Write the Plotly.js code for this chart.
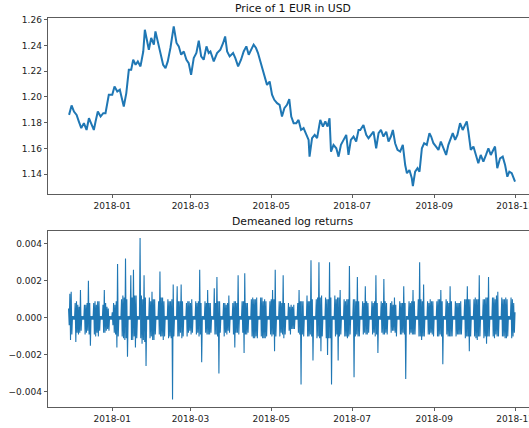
<!DOCTYPE html>
<html><head><meta charset="utf-8">
<script src="https://cdn.plot.ly/plotly-3.0.1.min.js"></script>
<style>html,body{margin:0;padding:0;overflow:hidden;background:#fff}</style>
</head><body><div id="chart"></div>
<script>
// Price of 1 EUR in USD: day offsets from 2018-01-01 and the rate
const priceDays = [
-32.6,-30.7,-28.9,-26.9,-25.2,-23.4,-21.4,-19.4,-17.6,-15.8,-13.9,-12.6,-10.9,-8.8,-6.8,-5.1,-2.6,0,
1.7,3.8,5.7,7.5,8.7,10.6,12.5,14.3,15.8,17.6,19.3,21.3,23.4,24.6,26.4,27.6,29.4,31.4,32.6,34.4,36.4,
38.4,40.2,41.9,43.9,46.4,48.5,50.2,52.0,54.0,56.0,57.7,59.5,61.5,63.5,65.3,67.1,69.0,71.1,72.8,
74.1,76.6,79.1,81.6,83.7,85.2,86.7,88.6,91.2,92.9,95.0,97.2,99.2,101.2,103.0,104.8,106.7,108.5,110.0,
111.8,113.5,115.0,116.8,118.8,120.6,122.3,124.4,126.3,128.1,129.9,131.9,133.6,135.1,136.9,138.9,140.6,
142.5,144.4,146.5,148.2,148.9,150.8,152.8,154.6,157.0,159.0,160.8,162.5,164.0,165.1,167.0,169.1,170.8,
172.6,174.6,176.6,178.3,180.1,182.1,184.1,185.9,
187.2,189.6,191.7,193.4,195.2,197.2,199.2,201.0,202.8,204.7,206.8,208.5,210.3,211.8,213.5,215.3,217.3,
219.3,221.1,222.4,224.3,226.1,226.9,228.6,230.4,231.9,233.7,235.4,237.4,239.4,240.7,242.4,244.4,246.2,
248.0,249.9,252.0,253.7,255.5,257.0,258.8,260.5,262.5,264.5,266.3,267.6,268.8,270.6,272.6,274.6,276.3,
278.1,280.1,282.1,283.9,285.7,287.6,288.9,290.6,292.7,294.7,296.5,298.2,299.7,301.5,303.2,304.0];
const priceValues = [
1.1861,1.1934,1.1887,1.1860,1.1809,1.1758,1.1797,1.1744,1.1835,1.1783,1.1744,1.1810,1.1887,1.1848,1.1874,1.1874,1.2017,1.2017,
1.2081,1.2042,1.2056,1.1978,1.1926,1.2030,1.2211,1.2211,1.2289,1.2250,1.2276,1.2237,1.2353,1.2522,1.2419,1.2367,1.2458,1.2406,1.2509,1.2431,1.2353,
1.2250,1.2224,1.2276,1.2380,1.2548,1.2419,1.2393,1.2328,1.2353,1.2289,1.2263,1.2172,1.2302,1.2341,1.2437,1.2315,1.2289,1.2393,1.2341,
1.2353,1.2276,1.2341,1.2367,1.2419,1.2470,1.2353,1.2315,1.2341,1.2302,1.2237,1.2289,1.2353,1.2393,1.2328,1.2367,1.2406,1.2380,1.2341,
1.2276,1.2211,1.2172,1.2094,1.2120,1.2017,1.1978,1.1952,1.1939,1.1848,1.1913,1.1939,1.1983,1.1848,1.1797,1.1797,1.1822,
1.1744,1.1758,1.1706,1.1667,1.1537,1.1680,1.1706,1.1680,1.1822,1.1770,1.1810,1.1770,1.1835,1.1576,1.1628,1.1602,1.1537,
1.1628,1.1667,1.1706,1.1550,1.1667,1.1693,1.1654,1.1744,
1.1744,1.1783,1.1706,1.1680,1.1706,1.1731,1.1602,1.1719,1.1744,1.1693,1.1731,1.1654,1.1693,1.1744,1.1641,1.1589,1.1576,
1.1628,1.1472,1.1408,1.1433,1.1369,1.1309,1.1420,1.1447,1.1420,1.1602,1.1641,1.1628,1.1719,1.1693,1.1641,1.1615,1.1589,
1.1654,1.1602,1.1550,1.1628,1.1680,1.1719,1.1667,1.1706,1.1797,1.1744,1.1783,1.1810,1.1731,1.1589,1.1615,1.1550,1.1485,
1.1550,1.1498,1.1550,1.1602,1.1550,1.1589,1.1615,1.1447,1.1524,1.1537,1.1472,1.1381,1.1420,1.1408,1.1356,1.1343];

// Demeaned log returns, two values per calendar day (every 12 h) from 2017-11-29; weekends near zero
const returnStart = '2017-11-29';
const returnStepHours = 12;
const returnValues = [
0.0005,-0.0004,0.0013,-0.0012,0.0014,-0.0009,0.0001,-0.0001,0.0001,-0.0001,
0.0008,-0.0013,0.0009,-0.0008,0.0007,-0.0009,0.0006,-0.0008,0.0015,-0.0007,0.0001,-0.0001,0.0001,-0.0001,
0.0007,-0.0009,0.0007,-0.0008,0.0008,-0.0007,0.0020,-0.0009,0.0008,-0.0015,0.0001,-0.0001,0.0001,-0.0001,
0.0008,-0.0009,0.0009,-0.0010,0.0007,-0.0008,0.0009,-0.0010,0.0009,-0.0007,0.0001,-0.0001,0.0001,-0.0001,
0.0007,-0.0008,0.0015,-0.0008,0.0008,-0.0007,0.0006,-0.0006,0.0005,-0.0007,0.0001,-0.0001,0.0001,-0.0001,
0.0003,-0.0004,0.0008,-0.0008,0.0007,-0.0009,0.0009,-0.0016,0.0029,-0.0010,0.0001,-0.0001,0.0001,-0.0001,
0.0010,-0.0010,0.0012,-0.0011,0.0011,-0.0012,0.0032,-0.0011,0.0010,-0.0021,0.0001,-0.0001,0.0001,-0.0001,
0.0023,-0.0012,0.0011,-0.0012,0.0026,-0.0010,0.0012,-0.0016,0.0012,-0.0011,0.0001,-0.0001,0.0001,-0.0001,
0.0043,-0.0011,0.0012,-0.0014,0.0010,-0.0012,0.0023,-0.0013,0.0011,-0.0026,0.0001,-0.0001,0.0001,-0.0001,
0.0011,-0.0011,0.0009,-0.0010,0.0014,-0.0012,0.0010,-0.0012,0.0010,-0.0009,0.0001,-0.0001,0.0001,-0.0001,
0.0009,-0.0009,0.0025,-0.0010,0.0011,-0.0010,0.0011,-0.0012,0.0009,-0.0010,0.0001,-0.0001,0.0001,-0.0001,
0.0010,-0.0011,0.0009,-0.0010,0.0009,-0.0011,0.0010,-0.0044,0.0018,-0.0010,0.0001,-0.0001,0.0001,-0.0001,
0.0017,-0.0010,0.0009,-0.0010,0.0009,-0.0008,0.0018,-0.0011,0.0009,-0.0010,0.0001,-0.0001,0.0001,-0.0001,
0.0008,-0.0010,0.0009,-0.0008,0.0009,-0.0007,0.0008,-0.0009,0.0010,-0.0008,0.0001,-0.0001,0.0001,-0.0001,
0.0009,-0.0009,0.0008,-0.0008,0.0009,-0.0010,0.0026,-0.0009,0.0008,-0.0024,0.0001,-0.0001,0.0001,-0.0001,
0.0009,-0.0008,0.0008,-0.0009,0.0015,-0.0009,0.0008,-0.0009,0.0008,-0.0008,0.0001,-0.0001,0.0001,-0.0001,
0.0016,-0.0009,0.0008,-0.0009,0.0022,-0.0010,0.0009,-0.0030,0.0009,-0.0008,0.0001,-0.0001,0.0001,-0.0001,
0.0008,-0.0010,0.0008,-0.0008,0.0007,-0.0009,0.0008,-0.0007,0.0012,-0.0008,0.0001,-0.0001,0.0001,-0.0001,
0.0008,-0.0009,0.0009,-0.0016,0.0009,-0.0008,0.0008,-0.0008,0.0023,-0.0009,0.0001,-0.0001,0.0001,-0.0001,
0.0009,-0.0008,0.0009,-0.0019,0.0024,-0.0009,0.0008,-0.0009,0.0008,-0.0008,0.0001,-0.0001,0.0001,-0.0001,
0.0010,-0.0010,0.0011,-0.0011,0.0010,-0.0011,0.0010,-0.0010,0.0011,-0.0011,0.0001,-0.0001,0.0001,-0.0001,
0.0011,-0.0010,0.0011,-0.0011,0.0009,-0.0011,0.0010,-0.0011,0.0009,-0.0010,0.0001,-0.0001,0.0001,-0.0001,
0.0009,-0.0009,0.0010,-0.0010,0.0015,-0.0009,0.0010,-0.0018,0.0026,-0.0010,0.0001,-0.0001,0.0001,-0.0001,
0.0009,-0.0010,0.0009,-0.0008,0.0008,-0.0009,0.0023,-0.0011,0.0008,-0.0009,0.0001,-0.0001,0.0001,-0.0001,
0.0008,-0.0007,0.0006,-0.0009,0.0007,-0.0006,0.0006,-0.0006,0.0007,-0.0006,0.0001,-0.0001,0.0001,-0.0001,
0.0008,-0.0008,0.0015,-0.0009,0.0009,-0.0036,0.0009,-0.0009,0.0009,-0.0010,0.0001,-0.0001,0.0001,-0.0001,
0.0012,-0.0010,0.0009,-0.0010,0.0009,-0.0009,0.0031,-0.0010,0.0010,-0.0023,0.0001,-0.0001,0.0001,-0.0001,
0.0010,-0.0011,0.0011,-0.0010,0.0030,-0.0011,0.0011,-0.0018,0.0012,-0.0010,0.0001,-0.0001,0.0001,-0.0001,
0.0011,-0.0011,0.0010,-0.0020,0.0010,-0.0011,0.0030,-0.0011,0.0011,-0.0036,0.0001,-0.0001,0.0001,-0.0001,
0.0012,-0.0010,0.0010,-0.0009,0.0011,-0.0023,0.0011,-0.0010,0.0015,-0.0009,0.0001,-0.0001,0.0001,-0.0001,
0.0010,-0.0010,0.0009,-0.0010,0.0010,-0.0011,0.0010,-0.0010,0.0028,-0.0009,0.0001,-0.0001,0.0001,-0.0001,
0.0010,-0.0032,0.0010,-0.0010,0.0009,-0.0009,0.0022,-0.0010,0.0009,-0.0010,0.0001,-0.0001,0.0001,-0.0001,
0.0009,-0.0009,0.0008,-0.0008,0.0017,-0.0009,0.0009,-0.0009,0.0008,-0.0008,0.0001,-0.0001,0.0001,-0.0001,
0.0009,-0.0009,0.0008,-0.0008,0.0009,-0.0010,0.0023,-0.0009,0.0008,-0.0019,0.0001,-0.0001,0.0001,-0.0001,
0.0009,-0.0008,0.0008,-0.0009,0.0021,-0.0009,0.0009,-0.0008,0.0008,-0.0009,0.0001,-0.0001,0.0001,-0.0001,
0.0008,-0.0008,0.0009,-0.0007,0.0007,-0.0007,0.0011,-0.0008,0.0007,-0.0010,0.0001,-0.0001,0.0001,-0.0001,
0.0009,-0.0009,0.0008,-0.0009,0.0008,-0.0008,0.0017,-0.0009,0.0008,-0.0033,0.0001,-0.0001,0.0001,-0.0001,
0.0009,-0.0009,0.0008,-0.0008,0.0009,-0.0009,0.0015,-0.0009,0.0009,-0.0009,0.0001,-0.0001,0.0001,-0.0001,
0.0010,-0.0010,0.0030,-0.0010,0.0010,-0.0012,0.0009,-0.0010,0.0018,-0.0010,0.0001,-0.0001,0.0001,-0.0001,
0.0009,-0.0009,0.0008,-0.0009,0.0010,-0.0008,0.0009,-0.0009,0.0009,-0.0010,0.0001,-0.0001,0.0001,-0.0001,
0.0009,-0.0010,0.0010,-0.0010,0.0010,-0.0009,0.0015,-0.0010,0.0009,-0.0025,0.0001,-0.0001,0.0001,-0.0001,
0.0010,-0.0009,0.0009,-0.0010,0.0008,-0.0010,0.0017,-0.0010,0.0009,-0.0010,0.0001,-0.0001,0.0001,-0.0001,
0.0009,-0.0010,0.0008,-0.0009,0.0008,-0.0009,0.0008,-0.0009,0.0009,-0.0009,0.0001,-0.0001,0.0001,-0.0001,
0.0010,-0.0011,0.0010,-0.0010,0.0017,-0.0010,0.0010,-0.0018,0.0010,-0.0010,0.0001,-0.0001,0.0001,-0.0001,
0.0010,-0.0010,0.0011,-0.0011,0.0010,-0.0012,0.0010,-0.0010,0.0023,-0.0010,0.0001,-0.0001,0.0001,-0.0001,
0.0010,-0.0011,0.0010,-0.0010,0.0011,-0.0014,0.0011,-0.0010,0.0022,-0.0010,0.0001,-0.0001,0.0001,-0.0001,
0.0011,-0.0010,0.0011,-0.0011,0.0010,-0.0009,0.0012,-0.0010,0.0014,-0.0010,0.0001,-0.0001,0.0001,-0.0001,
0.0011,-0.0010,0.0010,-0.0010,0.0010,-0.0011,0.0011,-0.0011,0.0010,-0.0010,0.0001,-0.0001,0.0001,-0.0001,
0.0011,-0.0011,0.0010,-0.0010,0.0008,-0.0008,0.0003];

const xTickDates = ['2018-01-01','2018-03-01','2018-05-01','2018-07-01','2018-09-01','2018-11-01'];
const xTickLabels = ['2018-01','2018-03','2018-05','2018-07','2018-09','2018-11'];
const priceTicks = [1.14,1.16,1.18,1.20,1.22,1.24,1.26];
const priceTickLabels = ['1.14','1.16','1.18','1.20','1.22','1.24','1.26'];
const returnTicks = [-0.004,-0.002,0,0.002,0.004];
const returnTickLabels = ['\u22120.004','\u22120.002','0.000','0.002','0.004'];
const titles = ['Price of 1 EUR in USD','Demeaned log returns'];

const HOUR = 3600000, DAY = 24*HOUR;
function isoStamp(ms){ return new Date(ms).toISOString().slice(0,16).replace('T',' '); }
const base2018 = Date.UTC(2018,0,1);
const priceDates = priceDays.map(d => isoStamp(base2018 + d*DAY));
const retBase = Date.parse(returnStart + 'T00:00:00Z');
const returnDates = returnValues.map((v,i) => isoStamp(retBase + i*returnStepHours*HOUR));

const lineColor = '#1f77b4';
const font = 'DejaVu Sans, Liberation Sans, sans-serif';
const common = {showline:true, mirror:true, linecolor:'#333', linewidth:0.8,
  ticks:'outside', ticklen:3.5, tickwidth:0.8, tickcolor:'#333',
  showgrid:false, zeroline:false, tickfont:{family:font, size:9, color:'#222'}};
const xRange = ['2017-11-13 12:00','2018-11-17 14:00'];

const traces = [
  {x:priceDates, y:priceValues, type:'scatter', mode:'lines', line:{color:lineColor, width:2.0}, xaxis:'x', yaxis:'y', hoverinfo:'skip'},
  {x:returnDates, y:returnValues, type:'scatter', mode:'lines', line:{color:lineColor, width:1.1}, xaxis:'x2', yaxis:'y2', hoverinfo:'skip'}
];
const layout = {
  width:545, height:428, margin:{l:48, r:8, t:18, b:21},
  paper_bgcolor:'#fff', plot_bgcolor:'#fff', showlegend:false,
  xaxis:Object.assign({}, common, {type:'date', range:xRange, tickvals:xTickDates, ticktext:xTickLabels, anchor:'y', domain:[0,1]}),
  yaxis:Object.assign({}, common, {domain:[0.5476,1], range:[1.1247,1.2613], tickvals:priceTicks, ticktext:priceTickLabels, anchor:'x'}),
  xaxis2:Object.assign({}, common, {type:'date', range:xRange, tickvals:xTickDates, ticktext:xTickLabels, anchor:'y2', domain:[0,1]}),
  yaxis2:Object.assign({}, common, {domain:[0,0.4532], range:[-0.00481,0.0047], tickvals:returnTicks, ticktext:returnTickLabels, anchor:'x2'}),
  annotations:[
    {text:titles[0], xref:'paper', yref:'paper', x:0.5, y:1, xanchor:'center', yanchor:'bottom', yshift:1, showarrow:false, font:{family:font, size:10.8, color:'#111'}},
    {text:titles[1], xref:'paper', yref:'paper', x:0.5, y:0.4532, xanchor:'center', yanchor:'bottom', yshift:1, showarrow:false, font:{family:font, size:10.8, color:'#111'}}
  ]
};
Plotly.newPlot('chart', traces, layout, {displayModeBar:false, staticPlot:true});
</script></body></html>
